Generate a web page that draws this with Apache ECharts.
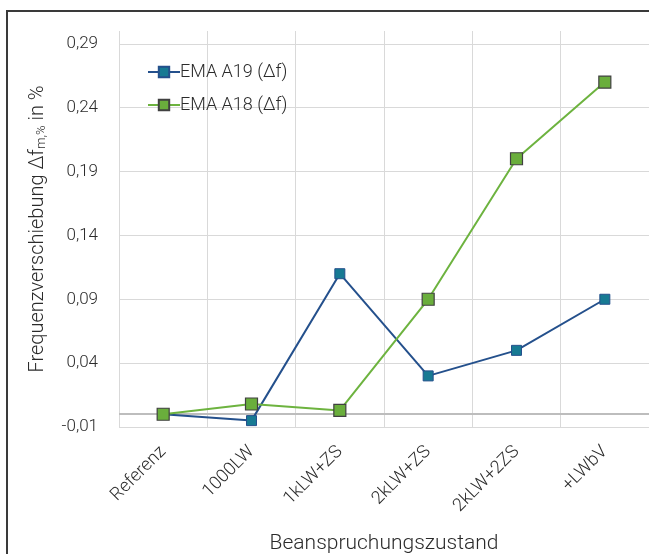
<!DOCTYPE html>
<html>
<head>
<meta charset="utf-8">
<script src="https://cdn.jsdelivr.net/npm/echarts@6/dist/echarts.min.js"></script>
<style>
html,body{margin:0;padding:0;background:#fff;}
#c{width:649px;height:554px;}
</style>
</head>
<body>
<div id="c"></div>
<script>
var categories = ['Referenz', '1000LW', '1kLW+ZS', '2kLW+ZS', '2kLW+2ZS', '+LWbV'];
var seriesA19 = [0, -0.005, 0.11, 0.03, 0.05, 0.09];
var seriesA18 = [0, 0.008, 0.003, 0.09, 0.2, 0.26];
var seriesNames = ['EMA A19 (Δf)', 'EMA A18 (Δf)'];
var yMin = -0.01, yMax = 0.30, yStep = 0.05;

var FONT = 'Roboto';
var TXT = '#2b2b2b';
var chart = echarts.init(document.getElementById('c'), null, {renderer: 'canvas'});
chart.setOption({
  animation: false,
  backgroundColor: '#ffffff',
  textStyle: {fontFamily: FONT, color: TXT},
  graphic: [{
    type: 'rect', z: 100, silent: true,
    shape: {x: 7, y: 11, width: 700, height: 700},
    style: {fill: 'none', stroke: '#3a3a3a', lineWidth: 2}
  }],
  grid: {left: 119, top: 31, right: 0, bottom: 127, containLabel: false, outerBoundsMode: 'none'},
  legend: {
    orient: 'vertical', left: 142, top: 58, itemGap: 15,
    itemWidth: 32, itemHeight: 13,
    textStyle: {fontFamily: FONT, fontSize: 18, fontWeight: 300, color: TXT, padding: [0, 0, 0, -5]},
    data: seriesNames
  },
  xAxis: {
    type: 'category', data: categories, boundaryGap: true,
    axisLine: {show: false}, axisTick: {show: false},
    splitLine: {show: true, lineStyle: {color: '#d9d9d9', width: 1}},
    axisLabel: {rotate: 45, margin: 22, fontFamily: FONT, fontSize: 18, fontWeight: 300, color: TXT, interval: 0},
    name: 'Beanspruchungszustand', nameLocation: 'middle', nameGap: 106,
    nameTextStyle: {fontFamily: FONT, fontSize: 21, fontWeight: 300, color: TXT}
  },
  yAxis: {
    type: 'value', min: yMin, max: yMax, interval: yStep,
    axisLine: {show: false}, axisTick: {show: false},
    splitLine: {show: true, showMaxLine: false, lineStyle: {color: '#d9d9d9', width: 1}},
    axisLabel: {
      showMaxLabel: false, margin: 21, fontFamily: FONT, fontSize: 17, fontWeight: 300, color: TXT,
      formatter: function (v) { return v.toFixed(2).replace('.', ','); }
    },
    name: 'Frequenzverschiebung Δf{sub|m,%} in %', nameLocation: 'middle', nameGap: 71,
    nameTextStyle: {
      fontFamily: FONT, fontSize: 20, fontWeight: 300, color: TXT,
      rich: {sub: {fontFamily: FONT, fontSize: 13, fontWeight: 300, color: TXT, padding: [8, 0, 0, 0]}}
    }
  },
  series: [{
    name: seriesNames[0], type: 'line', data: seriesA19,
    symbol: 'rect', symbolSize: 10,
    lineStyle: {color: '#24508c', width: 2},
    itemStyle: {color: '#177a93', borderColor: '#24508c', borderWidth: 1},
    markLine: {
      silent: true, symbol: 'none', label: {show: false},
      lineStyle: {color: '#bdbdbd', width: 2, type: 'solid'},
      data: [{yAxis: 0}], z: 1
    },
    z: 3
  }, {
    name: seriesNames[1], type: 'line', data: seriesA18,
    symbol: 'rect', symbolSize: 12,
    lineStyle: {color: '#6db33f', width: 2},
    itemStyle: {color: '#6aae3c', borderColor: '#404040', borderWidth: 1.2},
    z: 4
  }]
});
</script>
</body>
</html>
